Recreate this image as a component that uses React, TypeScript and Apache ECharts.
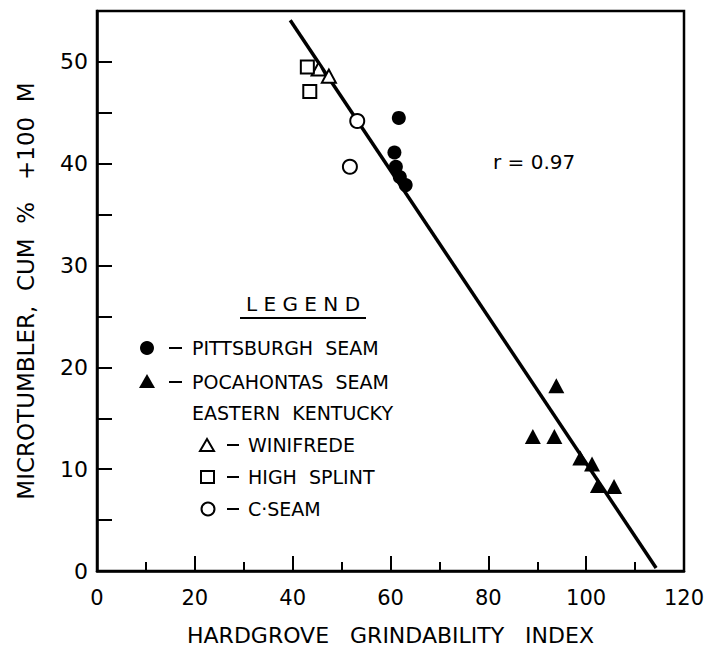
import React, { useEffect, useRef } from "react";
import * as echarts from "echarts";

const pittsburghX = [61.7, 60.8, 61.1, 61.9, 63.1];
const pittsburghY = [44.5, 41.1, 39.7, 38.7, 37.9];
const pocahontasX = [93.9, 89.1, 93.5, 98.8, 101.2, 102.4, 105.7];
const pocahontasY = [18.2, 13.2, 13.2, 11.1, 10.5, 8.4, 8.3];
const winifredeX = [45.3, 47.4];
const winifredeY = [49.3, 48.6];
const highSplintX = [43.0, 43.5];
const highSplintY = [49.5, 47.1];
const cSeamX = [53.2, 51.7];
const cSeamY = [44.2, 39.7];
const fitX = [39.5, 114.3];
const fitY = [54.1, 0.3];

const xTicks = [0, 20, 40, 60, 80, 100, 120];
const yTicks = [0, 10, 20, 30, 40, 50];

const FONT = "DejaVu Sans";
const pairs = (xs: number[], ys: number[]) => xs.map((x, i) => [x, ys[i]]);

export default function App() {
  const ref = useRef<HTMLDivElement>(null);
  useEffect(() => {
    const chart = echarts.init(ref.current!, null, { renderer: "svg" });
    const txt = (x: number, y: number, text: string, size = 19, align = "left") => ({
      type: "text",
      x,
      y,
      style: { text, font: `${size}px "${FONT}"`, fill: "#000", textAlign: align, textVerticalAlign: "middle" },
    });
    const dash = (x1: number, x2: number, y: number) => ({
      type: "line",
      shape: { x1, y1: y, x2, y2: y },
      style: { stroke: "#000", lineWidth: 2 },
    });
    const filled = { color: "#000", opacity: 1 };
    const open = { color: "#fff", borderColor: "#000", borderWidth: 2, opacity: 1 };
    chart.setOption({
      animation: false,
      backgroundColor: "#fff",
      grid: { left: 97, right: 28, top: 11, bottom: 83, show: true, borderColor: "#000", borderWidth: 2.5, backgroundColor: "transparent" },
      xAxis: {
        type: "value",
        min: 0,
        max: 120,
        interval: 20,
        name: "HARDGROVE\u00a0\u00a0\u00a0GRINDABILITY\u00a0\u00a0\u00a0INDEX",
        nameLocation: "middle",
        nameGap: 53,
        nameTextStyle: { fontFamily: FONT, fontSize: 22, color: "#000" },
        axisLine: { lineStyle: { color: "#000", width: 2.5 } },
        axisTick: { inside: true, length: 15, lineStyle: { color: "#000", width: 2 } },
        minorTick: { show: true, splitNumber: 2, length: 9, lineStyle: { color: "#000", width: 2 } },
        splitLine: { show: false },
        axisLabel: {
          margin: 16,
          fontFamily: FONT,
          fontSize: 21,
          color: "#000",
          formatter: (v: number) => (xTicks.includes(v) ? String(v) : ""),
        },
      },
      yAxis: {
        type: "value",
        min: 0,
        max: 55,
        interval: 5,
        name: "MICROTUMBLER,\u00a0\u00a0CUM\u00a0\u00a0%\u00a0\u00a0\u00a0+100\u00a0\u00a0M",
        nameLocation: "middle",
        nameRotate: 90,
        nameGap: 60,
        nameTextStyle: { fontFamily: FONT, fontSize: 23, color: "#000" },
        axisLine: { lineStyle: { color: "#000", width: 2.5 } },
        axisTick: { inside: true, length: 15, lineStyle: { color: "#000", width: 2 } },
        splitLine: { show: false },
        axisLabel: {
          margin: 9,
          fontFamily: FONT,
          fontSize: 22,
          color: "#000",
          showMaxLabel: false,
          formatter: (v: number) => (yTicks.includes(v) ? String(v) : ""),
        },
      },
      series: [
        {
          type: "line",
          data: pairs(fitX, fitY),
          showSymbol: false,
          lineStyle: { color: "#000", width: 3.5 },
          z: 1,
        },
        {
          name: "PITTSBURGH SEAM",
          type: "scatter",
          data: pairs(pittsburghX, pittsburghY),
          symbol: "circle",
          symbolSize: 14,
          itemStyle: filled,
          z: 3,
        },
        {
          name: "POCAHONTAS SEAM",
          type: "scatter",
          data: pairs(pocahontasX, pocahontasY),
          symbol: "triangle",
          symbolSize: [16, 15],
          itemStyle: filled,
          z: 3,
        },
        {
          name: "WINIFREDE",
          type: "scatter",
          data: pairs(winifredeX, winifredeY),
          symbol: "triangle",
          symbolSize: [14, 13],
          itemStyle: open,
          z: 3,
        },
        {
          name: "HIGH SPLINT",
          type: "scatter",
          data: pairs(highSplintX, highSplintY),
          symbol: "rect",
          symbolSize: 13,
          itemStyle: open,
          z: 3,
        },
        {
          name: "C-SEAM",
          type: "scatter",
          data: pairs(cSeamX, cSeamY),
          symbol: "circle",
          symbolSize: 14,
          itemStyle: open,
          z: 3,
        },
      ],
      graphic: [
        txt(493, 162, "r = 0.97", 20),
        txt(303, 304, "L E G E N D", 20, "center"),
        { type: "line", shape: { x1: 240, y1: 318, x2: 366, y2: 318 }, style: { stroke: "#000", lineWidth: 2 } },
        { type: "circle", shape: { cx: 147, cy: 348, r: 7 }, style: { fill: "#000" } },
        dash(169, 182, 348),
        txt(192, 348, "PITTSBURGH  SEAM"),
        { type: "polygon", shape: { points: [[147, 374], [139, 388], [155, 388]] }, style: { fill: "#000" } },
        dash(169, 182, 382),
        txt(192, 382, "POCAHONTAS  SEAM"),
        txt(192, 413, "EASTERN  KENTUCKY"),
        { type: "polygon", shape: { points: [[207, 439], [200, 451], [214, 451]] }, style: { fill: "#fff", stroke: "#000", lineWidth: 2 } },
        dash(227, 239, 445),
        txt(248, 445, "WINIFREDE"),
        { type: "rect", shape: { x: 201, y: 471, width: 13, height: 12 }, style: { fill: "#fff", stroke: "#000", lineWidth: 2 } },
        dash(227, 239, 477),
        txt(248, 477, "HIGH  SPLINT"),
        { type: "circle", shape: { cx: 208, cy: 509, r: 6.5 }, style: { fill: "#fff", stroke: "#000", lineWidth: 2 } },
        dash(227, 239, 509),
        txt(248, 509, "C·SEAM"),
      ],
    });
    return () => chart.dispose();
  }, []);
  return <div ref={ref} style={{ position: "fixed", left: 0, top: 0, width: 712, height: 654 }} />;
}
